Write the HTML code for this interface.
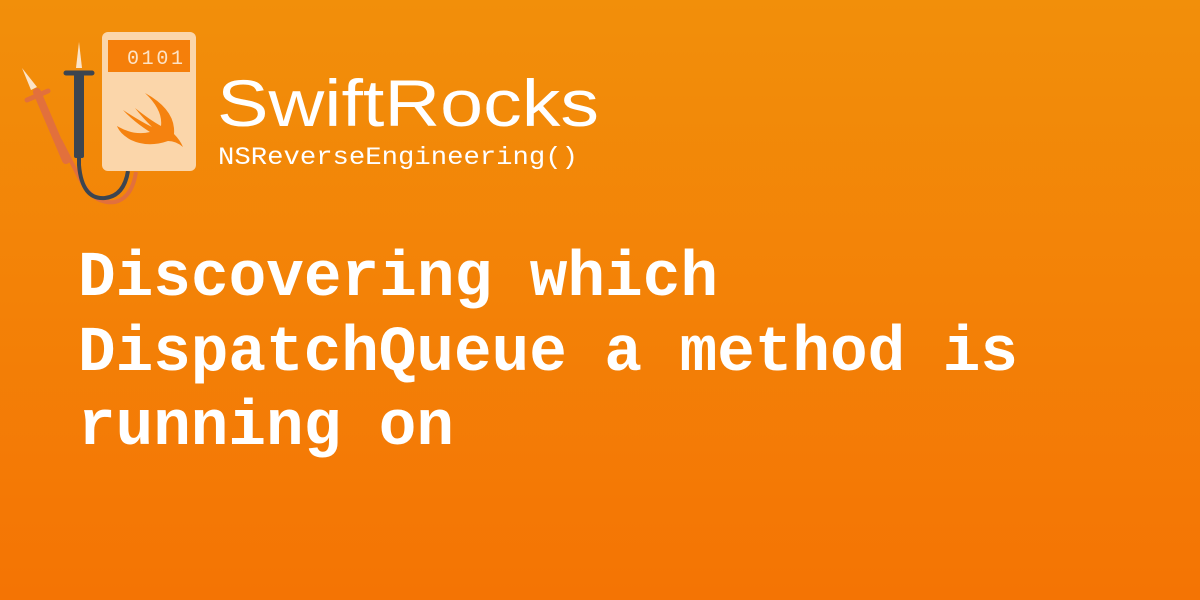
<!DOCTYPE html>
<html><head><meta charset="utf-8"><style>
html,body{margin:0;padding:0;width:1200px;height:600px;overflow:hidden}
body{background:linear-gradient(#f28f0a,#f47404)}
svg{display:block}
</style></head><body>
<svg width="1200" height="600" viewBox="0 0 1200 600" xmlns="http://www.w3.org/2000/svg">
<!-- red probe -->
<path d="M60 140 L78 175 Q92 205 115 202 Q132 198 136 172" fill="none" stroke="#e2703c" stroke-width="4"/>
<path d="M37 92 L66 160" stroke="#e2703c" stroke-width="8" stroke-linecap="round"/>
<path d="M27 100 L48 91" stroke="#e2703c" stroke-width="5" stroke-linecap="round"/>
<path d="M22 68 L31 90 L37 87 Z" fill="#fbe3c8"/>
<!-- black probe -->
<path d="M79 150 L79 165 Q82 200 105 198 Q124 196 128 171" fill="none" stroke="#3c4550" stroke-width="4"/>
<rect x="74" y="74" width="10" height="84" rx="2" fill="#3c4550"/>
<path d="M66 73 L92 73" stroke="#3c4550" stroke-width="5" stroke-linecap="round"/>
<path d="M79 42 L76 68 L82 68 Z" fill="#fbe3c8"/>
<!-- device -->
<rect x="102" y="32" width="94" height="139" rx="6" fill="#fbd6aa"/>
<rect x="108" y="40" width="82" height="32" fill="#f57f0a"/>
<text x="127" y="64" font-family="Liberation Mono, monospace" font-size="20" fill="#fde3c6" textLength="56">0101</text>
<!-- swift bird -->
<path d="M145 93 Q176 110 174 134 Q180 140 183 147 Q176 141 168 141 Q148 148 131 140 Q120 134 117 126 Q134 136 150 132 Q134 122 123 110 Q140 121 152 127 Q142 117 135 108 Q150 120 161 126 Q163 110 145 93 Z" fill="#f5820f"/>
<!-- logo text -->
<text x="217" y="126" font-family="Liberation Sans, sans-serif" font-size="66" fill="#fff" textLength="382" lengthAdjust="spacingAndGlyphs">SwiftRocks</text>
<text x="218" y="164" font-family="Liberation Mono, monospace" font-size="25" fill="#fff" textLength="360" lengthAdjust="spacingAndGlyphs">NSReverseEngineering()</text>
<!-- title -->
<g font-family="Liberation Mono, monospace" font-weight="bold" font-size="64" fill="#fff">
<text x="78" y="295" textLength="640" lengthAdjust="spacingAndGlyphs">Discovering which</text>
<text x="78" y="370" textLength="940" lengthAdjust="spacingAndGlyphs">DispatchQueue a method is</text>
<text x="78" y="444" textLength="376" lengthAdjust="spacingAndGlyphs">running on</text>
</g>
</svg>
</body></html>
